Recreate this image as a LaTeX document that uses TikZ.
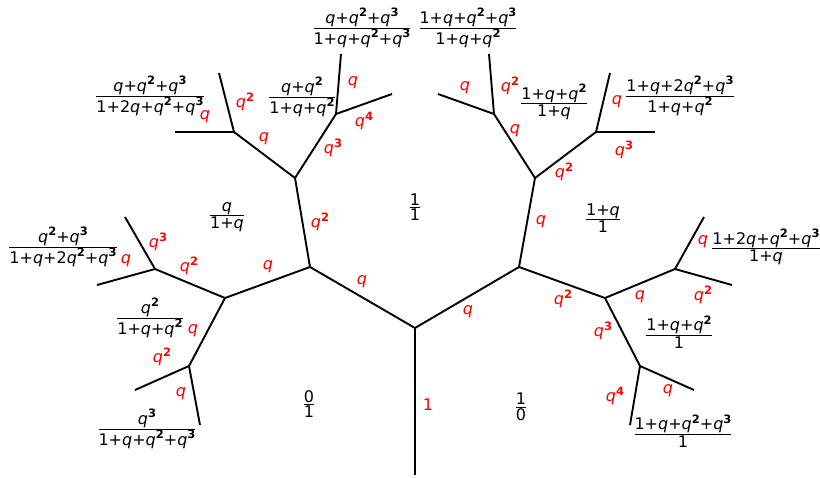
\documentclass[tikz,border=0pt]{standalone}
\usepackage{amsmath}
\usepackage{fontspec}
\setmainfont{DejaVu Sans}
\newcommand{\Q}{\textit{q}}
\newcommand{\Sp}[1]{\raisebox{0.42em}{\fontsize{11.5}{12}\selectfont\bfseries #1}}
\newcommand{\fr}[2]{$\genfrac{}{}{0.8pt}{}{\hbox{#1}}{\hbox{#2}}$}
\begin{document}
\begin{tikzpicture}[x=1pt,y=-1pt,
  edge/.style={line width=1.9pt},
  lab/.style={text=red, font=\fontsize{16}{18}\selectfont, inner sep=0pt},
  fra/.style={font=\fontsize{16}{18}\selectfont, inner sep=0pt}]
\useasboundingbox (0,0) rectangle (820,477);
% junctions
\coordinate (R) at (415,475);
\coordinate (A) at (415,328);
\coordinate (B) at (310,267);
\coordinate (C) at (519,267);
\coordinate (D) at (295,178);
\coordinate (E) at (225,298);
\coordinate (F) at (535,178);
\coordinate (G) at (605,298);
\coordinate (H) at (234,132);
\coordinate (I) at (336,114);
\coordinate (J) at (494,114);
\coordinate (K) at (596,132);
\coordinate (L) at (155,269);
\coordinate (M) at (189,366);
\coordinate (N) at (675,269);
\coordinate (O) at (640,366);
% leaves
\coordinate (H1) at (219,73);
\coordinate (H2) at (175,132);
\coordinate (I1) at (341,54);
\coordinate (I2) at (392,94);
\coordinate (J1) at (489,54);
\coordinate (J2) at (438,94);
\coordinate (K1) at (610,73);
\coordinate (K2) at (655,132);
\coordinate (L1) at (125,217);
\coordinate (L2) at (97,285);
\coordinate (M1) at (135,390);
\coordinate (M2) at (200,425);
\coordinate (N1) at (704,217);
\coordinate (N2) at (732,285);
\coordinate (O1) at (694,390);
\coordinate (O2) at (630,425);
% edges
\draw[edge] (R) -- (A);
\draw[edge] (A) -- (B);
\draw[edge] (A) -- (C);
\draw[edge] (B) -- (D);
\draw[edge] (B) -- (E);
\draw[edge] (C) -- (F);
\draw[edge] (C) -- (G);
\draw[edge] (D) -- (H);
\draw[edge] (D) -- (I);
\draw[edge] (F) -- (J);
\draw[edge] (F) -- (K);
\draw[edge] (E) -- (L);
\draw[edge] (E) -- (M);
\draw[edge] (G) -- (N);
\draw[edge] (G) -- (O);
\draw[edge] (H) -- (H1);
\draw[edge] (H) -- (H2);
\draw[edge] (I) -- (I1);
\draw[edge] (I) -- (I2);
\draw[edge] (J) -- (J1);
\draw[edge] (J) -- (J2);
\draw[edge] (K) -- (K1);
\draw[edge] (K) -- (K2);
\draw[edge] (L) -- (L1);
\draw[edge] (L) -- (L2);
\draw[edge] (M) -- (M1);
\draw[edge] (M) -- (M2);
\draw[edge] (N) -- (N1);
\draw[edge] (N) -- (N2);
\draw[edge] (O) -- (O1);
\draw[edge] (O) -- (O2);
% red edge labels
\node[lab] (lRA) at (428,405) {1};
\node[lab] (lAB) at (362,282) {\Q};
\node[lab] (lAC) at (468,312) {\Q};
\node[lab] (lBD) at (320,222) {\Q\Sp{2}};
\node[lab] (lBE) at (268,267) {\Q};
\node[lab] (lCF) at (541,222) {\Q};
\node[lab] (lCG) at (563,299) {\Q\Sp{2}};
\node[lab] (lDH) at (264,139) {\Q};
\node[lab] (lDI) at (333,148) {\Q\Sp{3}};
\node[lab] (lHH1) at (245,102) {\Q\Sp{2}};
\node[lab] (lHH2) at (205,117) {\Q};
\node[lab] (lII1) at (353,83) {\Q};
\node[lab] (lII2) at (364,121) {\Q\Sp{4}};
\node[lab] (lFJ) at (515,131) {\Q};
\node[lab] (lFK) at (564,172) {\Q\Sp{2}};
\node[lab] (lJJ1) at (510,86) {\Q\Sp{2}};
\node[lab] (lJJ2) at (465,88) {\Q};
\node[lab] (lKK1) at (617,102) {\Q};
\node[lab] (lKK2) at (624,150) {\Q\Sp{3}};
\node[lab] (lEL) at (189,266) {\Q\Sp{2}};
\node[lab] (lEM) at (193,331) {\Q};
\node[lab] (lLL1) at (158,242) {\Q\Sp{3}};
\node[lab] (lLL2) at (126,261) {\Q};
\node[lab] (lMM1) at (162,357) {\Q\Sp{2}};
\node[lab] (lMM2) at (181,394) {\Q};
\node[lab] (lGN) at (640,297) {\Q};
\node[lab] (lGO) at (603,331) {\Q\Sp{3}};
\node[lab] (lNN1) at (703,242) {\Q};
\node[lab] (lNN2) at (703,295) {\Q\Sp{2}};
\node[lab] (lOO1) at (668,391) {\Q};
\node[lab] (lOO2) at (615,396) {\Q\Sp{4}};
% fractions
\node[fra] (f1) at (150,96) {\fr{\Q+\Q\Sp{2}+\Q\Sp{3}}{1+2\Q+\Q\Sp{2}+\Q\Sp{3}}};
\node[fra] (f2) at (302,97) {\fr{\Q+\Q\Sp{2}}{1+\Q+\Q\Sp{2}}};
\node[fra] (f3) at (362,28) {\fr{\Q+\Q\Sp{2}+\Q\Sp{3}}{1+\Q+\Q\Sp{2}+\Q\Sp{3}}};
\node[fra] (f4) at (468,28) {\fr{1+\Q+\Q\Sp{2}+\Q\Sp{3}}{1+\Q+\Q\Sp{2}}};
\node[fra] (f5) at (554,102) {\fr{1+\Q+\Q\Sp{2}}{1+\Q}};
\node[fra] (f6) at (680,96) {\fr{1+\Q+2\Q\Sp{2}+\Q\Sp{3}}{1+\Q+\Q\Sp{2}}};
\node[fra] (f7) at (227,217) {\fr{\Q}{1+\Q}};
\node[fra] (f8) at (415,207) {\fr{1}{1}};
\node[fra] (f9) at (603,218) {\fr{1+\Q}{1}};
\node[fra] (f10) at (63,247) {\fr{\Q\Sp{2}+\Q\Sp{3}}{1+\Q+2\Q\Sp{2}+\Q\Sp{3}}};
\node[fra] (f11) at (766,247) {\fr{1+2\Q+\Q\Sp{2}+\Q\Sp{3}}{1+\Q}};
\node[fra] (f12) at (150,318) {\fr{\Q\Sp{2}}{1+\Q+\Q\Sp{2}}};
\node[fra] (f13) at (679,332) {\fr{1+\Q+\Q\Sp{2}}{1}};
\node[fra] (f14) at (309,404) {\fr{0}{1}};
\node[fra] (f15) at (521,407) {\fr{1}{0}};
\node[fra] (f16) at (147,429) {\fr{\Q\Sp{3}}{1+\Q+\Q\Sp{2}+\Q\Sp{3}}};
\node[fra] (f17) at (683,431) {\fr{1+\Q+\Q\Sp{2}+\Q\Sp{3}}{1}};
\end{tikzpicture}
\end{document}
